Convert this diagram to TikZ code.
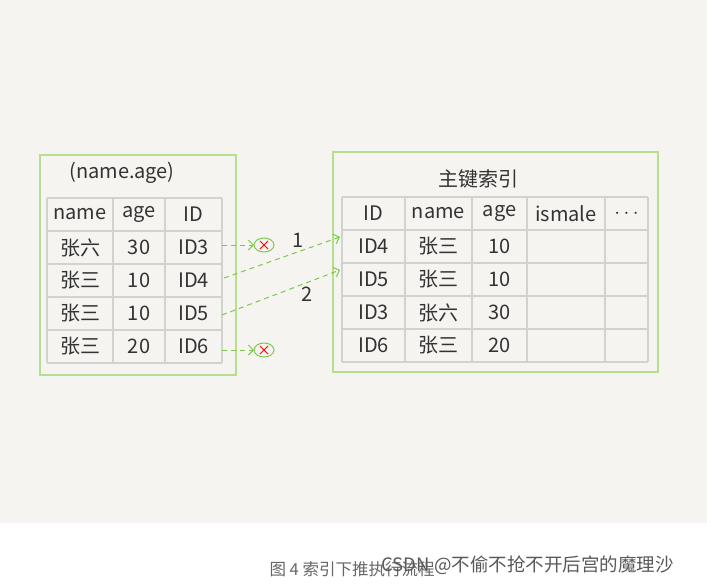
\documentclass[tikz,border=0pt]{standalone}
\usepackage{fontspec}
\setmainfont{Noto Sans CJK SC}
\usetikzlibrary{arrows.meta}
\definecolor{bg}{HTML}{F5F4F0}
\definecolor{gbox}{HTML}{B5DE8F}
\definecolor{garr}{HTML}{7CC84E}
\definecolor{grid}{HTML}{D2D2D0}
\definecolor{txt}{HTML}{333333}
\begin{document}
\begin{tikzpicture}[x=1pt,y=-1pt,
  outer/.style={draw=gbox,line width=1.2pt},
  cell/.style={text=txt,font=\fontsize{20}{20}\selectfont},
  darr/.style={draw=garr,dashed,line width=1pt,dash pattern=on 5pt off 4pt,-{Straight Barb[length=5pt]}}]
\useasboundingbox (0,0) rectangle (707,584);
\fill[bg] (0,0) rectangle (707,523);
\fill[white] (0,523) rectangle (707,584);
% left box
\draw[outer] (40,155) rectangle (236,375);
\node[cell] (lt) at (122,173) {(name.age)};
\foreach \x in {47,113,165,222} \draw[grid,line width=1.5pt] (\x,198) -- (\x,363);
\foreach \y in {198,231,264,297,330,363} \draw[grid,line width=1.5pt] (47,\y) -- (222,\y);
\foreach \r/\a/\b/\c [count=\i] in {0/name/age/ID,1/张六/30/ID3,2/张三/10/ID4,3/张三/10/ID5,4/张三/20/ID6}{
  \node[cell] (la\i) at (80,214.5+33*\r) {\a};
  \node[cell] (lb\i) at (139,214.5+33*\r) {\b};
  \node[cell] (lc\i) at (193.5,214.5+33*\r) {\c};
}
% right box
\draw[outer] (333,152) rectangle (658,372);
\node[cell] (rt) at (478,179) {主键索引};
\foreach \x in {342,405,472,527,605,648} \draw[grid,line width=1.5pt] (\x,197) -- (\x,362);
\foreach \y in {197,230,263,296,329,362} \draw[grid,line width=1.5pt] (342,\y) -- (648,\y);
\foreach \r/\a/\b/\c/\d/\e [count=\i] in {0/ID/name/age/ismale/$\cdots$,1/ID4/张三/10//,2/ID5/张三/10//,3/ID3/张六/30//,4/ID6/张三/20//}{
  \node[cell] (ra\i) at (373.5,213.5+33*\r) {\a};
  \node[cell] (rb\i) at (438.5,213.5+33*\r) {\b};
  \node[cell] (rc\i) at (499.5,213.5+33*\r) {\c};
  \node[cell] (rd\i) at (566,213.5+33*\r) {\d};
  \node[cell] (re\i) at (626.5,213.5+33*\r) {\e};
}
% x marks
\foreach \n/\y in {x1/245,x2/350}{
  \draw[garr,line width=1pt] (264,\y) ellipse (10pt and 7pt);
  \coordinate (\n) at (254,\y);
  \draw[red,line width=1pt] (260,\y-4) -- (268,\y+4) (260,\y+4) -- (268,\y-4);
}
\coordinate (s1) at (222,245);
\coordinate (s2) at (224,278);
\coordinate (s3) at (222,315);
\coordinate (s4) at (222,350);
\coordinate (t1) at (340,237);
\coordinate (t2) at (340,270);
\draw[darr] (s1) -- (x1);
\draw[darr] (s4) -- (x2);
\draw[darr] (s2) -- (t1);
\draw[darr] (s3) -- (t2);
\node[cell] (n1) at (298,240) {1};
\node[cell] (n2) at (307,294) {2};
% caption
\node[anchor=west,text=black!60,font=\fontsize{16.5}{16.5}\selectfont] (cap) at (266,569) {图 4 索引下推执行流程};
\node[anchor=west,text=black!65,font=\fontsize{18.5}{18.5}\selectfont] (wm) at (378,565) {CSDN @不偷不抢不开后宫的魔理沙};
\end{tikzpicture}
\end{document}
